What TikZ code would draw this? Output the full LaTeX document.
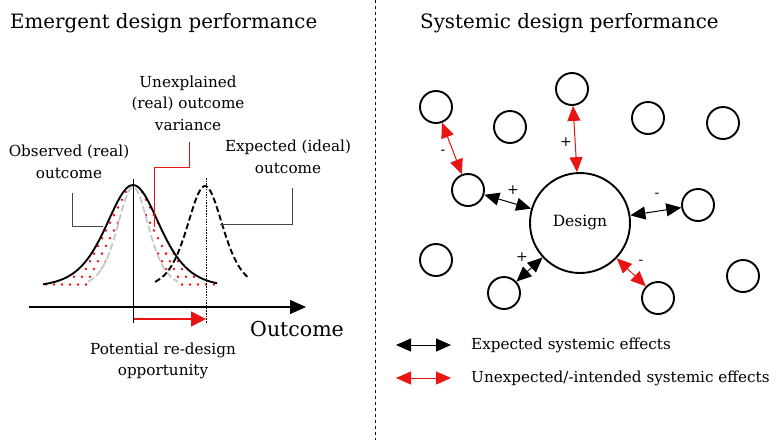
\documentclass[tikz,border=0pt]{standalone}
\usepackage{fontspec}
\setmainfont{DejaVu Serif}
\usetikzlibrary{arrows.meta}
\definecolor{effred}{RGB}{235,20,20}
\definecolor{brgray}{RGB}{70,70,70}
\definecolor{lightcurve}{RGB}{200,200,200}

\begin{document}
\begin{tikzpicture}[x=1pt,y=-1pt,
  titletext/.style={font=\fontsize{19.8}{22}\selectfont, anchor=west, inner sep=0},
  lbl/.style={font=\fontsize{15.2}{21.5}\selectfont, align=center, inner sep=0},
  sign/.style={font=\fontsize{14}{14}\selectfont, inner sep=0},
  bubble/.style={circle, draw, line width=1.9pt, minimum size=32pt, inner sep=0},
  core/.style={circle, draw, line width=1.9pt, minimum size=100pt, inner sep=0, font=\fontsize{15.5}{18}\selectfont},
  bi/.style={{Triangle[length=15pt,width=13pt]}-{Triangle[length=15pt,width=13pt]}, line width=1pt},
  expected/.style={bi, draw=black},
  unexpected/.style={bi, draw=effred, fill=effred},
  bracket/.style={draw=brgray, line width=1pt},
]
\useasboundingbox (0,0) rectangle (780,440);

% divider between the two panels
\draw[dashed, line width=0.8pt] (375,0) -- (375,440);

% panel titles
\node[titletext] (tl) at (10,23) {Emergent design performance};
\node[titletext] (tr) at (420,23) {Systemic design performance};

% ---------- left panel: outcome distributions ----------
% red dots between the observed and the narrow reference curve
\begin{scope}[even odd rule]
  \clip
    plot[domain=43:217, samples=90, smooth] (\x,{287-102*4/(exp((\x-133)/36)+exp(-(\x-133)/36))^2}) -- (217,286) -- (43,286) -- cycle
    plot[domain=88:178, samples=70, smooth] (\x,{287-100*4/(exp((\x-133)/21)+exp(-(\x-133)/21))^2}) -- (178,286) -- (88,286) -- cycle;
  \foreach \j in {0,...,12}{
    \foreach \i in {0,...,22}{
      \fill[effred] ({46+8*\i+4*mod(\j,2)},{192+7.7*\j}) circle (1.4pt);
    }
  }
\end{scope}

% narrow reference curve (light grey, dashed)
\draw[lightcurve, dash pattern=on 7pt off 3pt, line width=1.8pt]
  plot[domain=88:178, samples=70, smooth] (\x,{287-100*4/(exp((\x-133)/21)+exp(-(\x-133)/21))^2});
% observed outcome curve
\draw[line width=1.9pt]
  plot[domain=43:217, samples=90, smooth] (\x,{287-102*4/(exp((\x-133)/36)+exp(-(\x-133)/36))^2});
% expected outcome curve
\draw[line width=1.9pt, dash pattern=on 6pt off 3pt]
  plot[domain=155:248, samples=70, smooth] (\x,{288-102*4/(exp((\x-205)/24)+exp(-(\x-205)/24))^2});

% markers of the two means
\coordinate (mobsTop) at (133,179);
\coordinate (mobsBot) at (133,323);
\coordinate (mexpTop) at (206,178);
\coordinate (mexpBot) at (206,323);
\draw[line width=0.8pt] (mobsTop) -- (mobsBot);
\draw[line width=0.8pt, dash pattern=on 1.5pt off 1.2pt] (mexpTop) -- (mexpBot);

% outcome axis
\coordinate (axL) at (29,307);
\coordinate (axR) at (306,307);
\draw[line width=1.2pt, -{Triangle[length=16pt,width=14pt]}] (axL) -- (axR);
\node[font=\fontsize{20.5}{24}\selectfont, anchor=west, inner sep=0] (outc) at (250,329) {Outcome};

% re-design shift
\coordinate (shA) at (134,319);
\coordinate (shB) at (206,319);
\draw[effred, line width=1.4pt, -{Triangle[length=15pt,width=15pt]}] (shA) -- (shB);

% labels
\node[lbl] (unex) at (188,103) {Unexplained\\(real) outcome\\variance};
\node[lbl] (obs) at (69,162) {Observed (real)\\outcome};
\node[lbl] (expc) at (288,157) {Expected (ideal)\\outcome};
\node[lbl] (pot) at (163,361) {Potential re-design\\opportunity};

% leader lines
\draw[bracket] (72,193) -- (72,226) -- (103,226);
\draw[bracket] (292,188) -- (292,224) -- (220,224);
\draw[effred, line width=1pt] (189,142) -- (189,167) -- (154,167) -- (154,227);

% ---------- right panel: systemic effects ----------
\node[core] (design) at (580,223) {Design};
\node[bubble] (c1) at (436,107) {};
\node[bubble] (c2) at (510,127) {};
\node[bubble] (c3) at (572,89) {};
\node[bubble] (c4) at (648,118) {};
\node[bubble] (c5) at (723,123) {};
\node[bubble] (c6) at (468,190) {};
\node[bubble] (c7) at (698,205) {};
\node[bubble] (c8) at (436,260) {};
\node[bubble] (c9) at (504,293) {};
\node[bubble] (c10) at (658,298) {};
\node[bubble] (c11) at (743,276) {};

\draw[unexpected] (c1) -- (c6);
\draw[unexpected] (c3) -- (design);
\draw[expected] (c6) -- (design);
\draw[expected] (c7) -- (design);
\draw[expected] (c9) -- (design);
\draw[unexpected] (design) -- (c10);

\node[sign] (s1) at (443,152) {-};
\node[sign] (s2) at (566,142) {+};
\node[sign] (s3) at (513,190) {+};
\node[sign] (s4) at (657,195) {-};
\node[sign] (s5) at (522,257) {+};
\node[sign] (s6) at (641,262) {-};

% legend
\coordinate (le1a) at (396,345);
\coordinate (le1b) at (451,345);
\coordinate (le2a) at (396,378);
\coordinate (le2b) at (451,378);
\draw[expected] (le1a) -- (le1b);
\draw[unexpected] (le2a) -- (le2b);
\node[lbl, anchor=west] (lg1) at (471,345) {Expected systemic effects};
\node[lbl, anchor=west] (lg2) at (471,378) {Unexpected/-intended systemic effects};
\end{tikzpicture}
\end{document}
